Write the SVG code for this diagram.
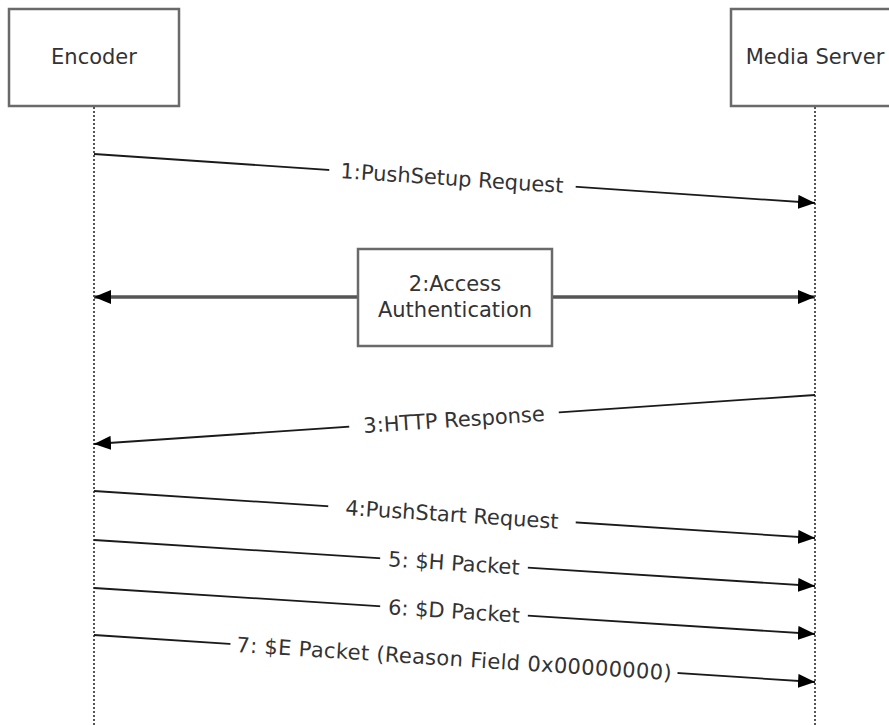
<svg xmlns="http://www.w3.org/2000/svg" width="889" height="725" viewBox="0 0 889 725">
<style>
.box{fill:#fff;stroke:#6a6a6a;stroke-width:2.5}
.life{stroke:#555;stroke-width:2;stroke-dasharray:2,2;fill:none}
.msg{stroke:#1a1a1a;stroke-width:1.8;fill:none;marker-end:url(#ah)}
.thick{stroke:#555;stroke-width:3.5;fill:none;marker-end:url(#ah)}
text{font-family:"DejaVu Sans","Liberation Sans",sans-serif;font-size:21px;fill:#333;text-anchor:middle}
.bg{fill:#fff}
</style>
<defs>
<marker id="ah" markerUnits="userSpaceOnUse" markerWidth="18" markerHeight="14" refX="17" refY="7" orient="auto">
<path d="M0,0 L17,7 L0,14 z" fill="#000"/>
</marker>
</defs>
<g id="encoder">
<rect class="box" x="9" y="9" width="170" height="97"/>
<text x="94" y="64">Encoder</text>
<line class="life" x1="94" y1="107" x2="94" y2="725"/>
</g>
<g id="media-server">
<rect class="box" x="731" y="9" width="170" height="97"/>
<text x="815" y="64">Media Server</text>
<line class="life" x1="815" y1="107" x2="815" y2="725"/>
</g>
<g id="connectors">
<line class="msg" x1="94" y1="154" x2="815" y2="203"/>
<g transform="rotate(3.8 452 177.8)"><rect class="bg" x="329" y="165" width="247" height="26"/><text x="452" y="185.5">1:PushSetup Request</text></g>
<line class="thick" x1="358" y1="297" x2="94" y2="297"/>
<line class="thick" x1="552" y1="297" x2="815" y2="297"/>
<line class="msg" x1="815" y1="395" x2="94" y2="444"/>
<g transform="rotate(-3.8 454 419.5)"><rect class="bg" x="349" y="407" width="210" height="26"/><text x="454" y="427">3:HTTP Response</text></g>
<line class="msg" x1="94" y1="491" x2="815" y2="538"/>
<g transform="rotate(3.7 452 514.3)"><rect class="bg" x="328" y="501" width="248" height="26"/><text x="452" y="521.8">4:PushStart Request</text></g>
<line class="msg" x1="94" y1="540" x2="815" y2="586"/>
<g transform="rotate(3.65 454 563)"><rect class="bg" x="380" y="550" width="148" height="26"/><text x="454" y="570.5">5: $H Packet</text></g>
<line class="msg" x1="94" y1="588" x2="815" y2="634"/>
<g transform="rotate(3.65 454 611)"><rect class="bg" x="380" y="598" width="148" height="26"/><text x="454" y="618.5">6: $D Packet</text></g>
<line class="msg" x1="94" y1="635" x2="815" y2="682"/>
<g transform="rotate(3.7 454 658.5)"><rect class="bg" x="230" y="645" width="448" height="26"/><text x="454" y="666" textLength="436">7: $E Packet (Reason Field 0x00000000)</text></g>
</g>
<g id="access-auth">
<rect class="box" x="358" y="249" width="194" height="97"/>
<text x="455" y="291">2:Access</text>
<text x="455" y="317">Authentication</text>
</g>
</svg>
